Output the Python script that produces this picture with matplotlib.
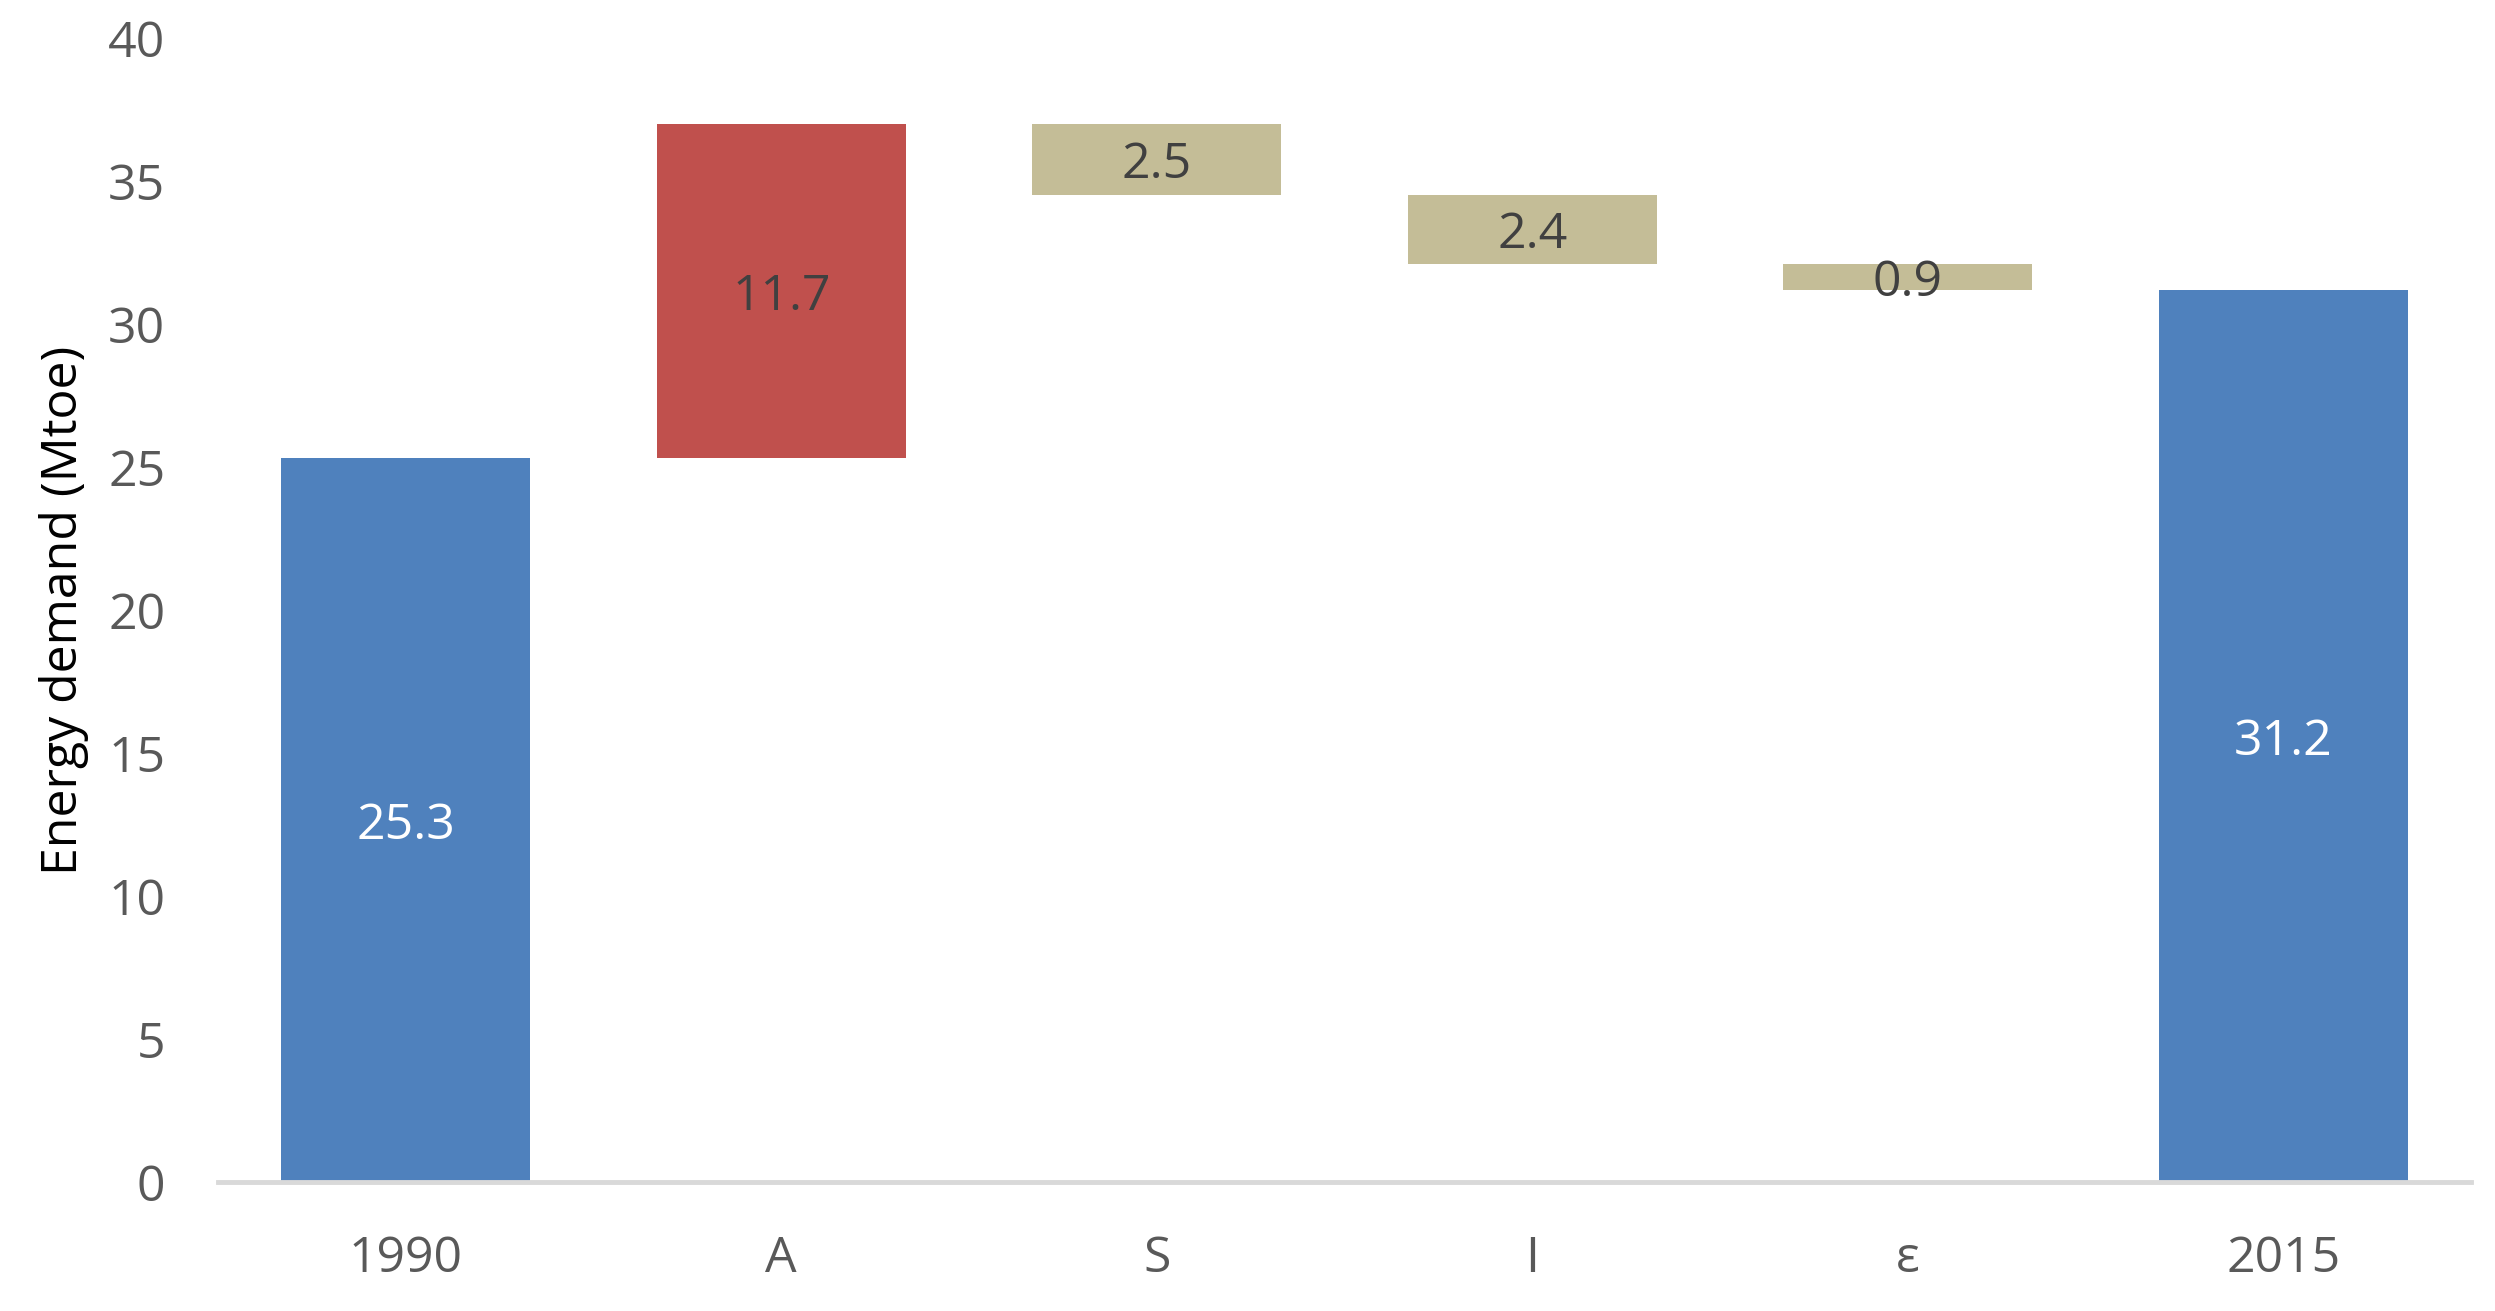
import matplotlib
matplotlib.use("Agg")
import matplotlib.pyplot as plt
import numpy as np

# 瀑布图数据
categories = ["1990", "A", "S", "I", "ε", "2015"]
start_value = 25.3
deltas = [11.7, -2.5, -2.4, -0.9]
end_value = 31.2

BLUE = "#4F81BD"
RED = "#C0504D"
TAN = "#C4BD97"
GREY = "#595959"

plt.rcParams["font.family"] = ["Open Sans", "DejaVu Sans"]

levels = start_value + np.concatenate([[0.0], np.cumsum(deltas)])
heights = [start_value] + [abs(d) for d in deltas] + [end_value]
bottoms = [0.0] + [min(levels[i], levels[i + 1]) for i in range(len(deltas))] + [0.0]
colors = [BLUE] + [RED if d > 0 else TAN for d in deltas] + [BLUE]
text_colors = ["white"] + ["#404040"] * len(deltas) + ["white"]

fig = plt.figure(figsize=(24.95, 13.11), dpi=100)
ax = fig.add_axes([0.0874, 0.0984, 0.9030, 0.8726])

x = np.arange(len(categories))
ax.bar(x, heights, bottom=bottoms, width=0.664, color=colors, edgecolor="none")

for xi, h, b, tc in zip(x, heights, bottoms, text_colors):
    ax.text(xi, b + h / 2, f"{h:.1f}", ha="center", va="center_baseline",
            fontsize=36, color=tc)

ax.set_xlim(-0.5, len(categories) - 0.5)
ax.set_ylim(0, 40)
ax.set_yticks(range(0, 41, 5))
ax.set_xticks(x)
ax.set_xticklabels(categories)
ax.tick_params(axis="both", length=0, labelsize=36, labelcolor=GREY)
ax.tick_params(axis="x", pad=38)
ax.tick_params(axis="y", pad=38)
ax.set_ylabel("Energy demand (Mtoe)", fontsize=36, color="black", labelpad=14)

for side in ["top", "right", "left"]:
    ax.spines[side].set_visible(False)
ax.spines["bottom"].set_color("#D9D9D9")
ax.spines["bottom"].set_linewidth(3.5)

fig.savefig("out.png", dpi=100)
plt.close(fig)
